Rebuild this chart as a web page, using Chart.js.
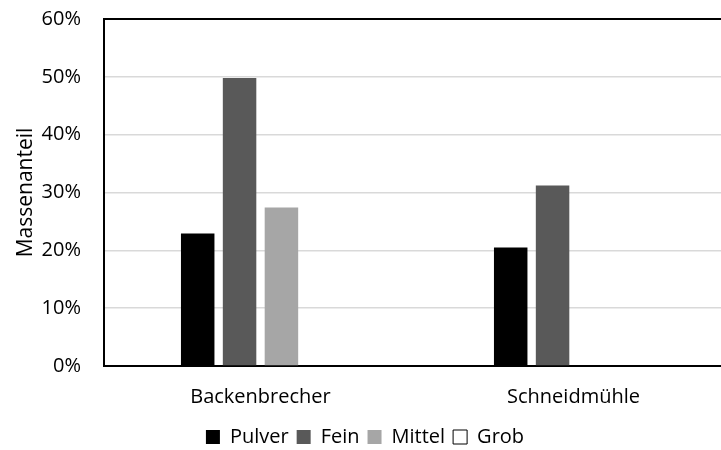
<!DOCTYPE html>
<html>
<head><meta charset="utf-8">
<title>Massenanteil</title>
<script src="https://cdn.jsdelivr.net/npm/chart.js"></script>
<style>
  html, body { margin: 0; padding: 0; background: #fff; overflow: hidden; }
  #wrap { width: 740px; height: 450px; }
</style>
</head>
<body>
<div id="wrap"><canvas id="chart" width="740" height="450"></canvas></div>
<script>
// Werte in Prozent
var categories = ['Backenbrecher', 'Schneidmühle'];
var pulver = [22.9, 20.5];
var fein = [49.8, 31.2];
var mittel = [27.4, 0];
var grob = [0, 0];
var yTicks = [0, 10, 20, 30, 40, 50, 60];

var FONT = "'Open Sans', sans-serif";

new Chart(document.getElementById('chart').getContext('2d'), {
  type: 'bar',
  data: {
    labels: categories,
    datasets: [
      { label: 'Pulver', data: pulver, backgroundColor: '#000000', borderWidth: 0 },
      { label: 'Fein', data: fein, backgroundColor: '#595959', borderWidth: 0 },
      { label: 'Mittel', data: mittel, backgroundColor: '#a6a6a6', borderWidth: 0 },
      { label: 'Grob', data: grob, backgroundColor: '#ffffff', borderColor: '#000000', borderWidth: 1 }
    ]
  },
  options: {
    responsive: false,
    animation: false,
    categoryPercentage: 0.535,
    barPercentage: 0.8,
    layout: { padding: { top: 19, right: 10, left: 0, bottom: -7 } },
    plugins: {
      tooltip: { enabled: false },
      legend: {
        position: 'bottom',
        labels: {
          color: '#000',
          font: { family: FONT, size: 20 },
          boxWidth: 14,
          boxHeight: 14,
          padding: 8
        }
      }
    },
    scales: {
      x: {
        afterFit: function (s) { s.height = 53; },
        grid: { display: false, drawTicks: false },
        border: { color: '#000', width: 2 },
        ticks: { color: '#000', font: { family: FONT, size: 20 }, padding: 19 }
      },
      y: {
        min: 0,
        max: 60,
        afterFit: function (s) { s.width = 104; s.paddingTop = 0; s.paddingBottom = 0; },
        afterBuildTicks: function (s) { s.ticks = yTicks.map(function (v) { return { value: v }; }); },
        grid: {
          drawTicks: false,
          color: function (c) { return c.tick && c.tick.value === 60 ? '#000' : '#d9d9d9'; },
          lineWidth: function (c) { return c.tick && c.tick.value === 60 ? 2 : 1.5; }
        },
        border: { color: '#000', width: 2 },
        ticks: {
          color: '#000',
          font: { family: FONT, size: 20 },
          padding: 23,
          callback: function (v) { return v + '%'; }
        },
        title: {
          display: true,
          text: 'Massenanteil',
          color: '#000',
          font: { family: FONT, size: 21 },
          padding: { top: 13, bottom: 0 }
        }
      }
    }
  }
});
</script>
</body>
</html>
